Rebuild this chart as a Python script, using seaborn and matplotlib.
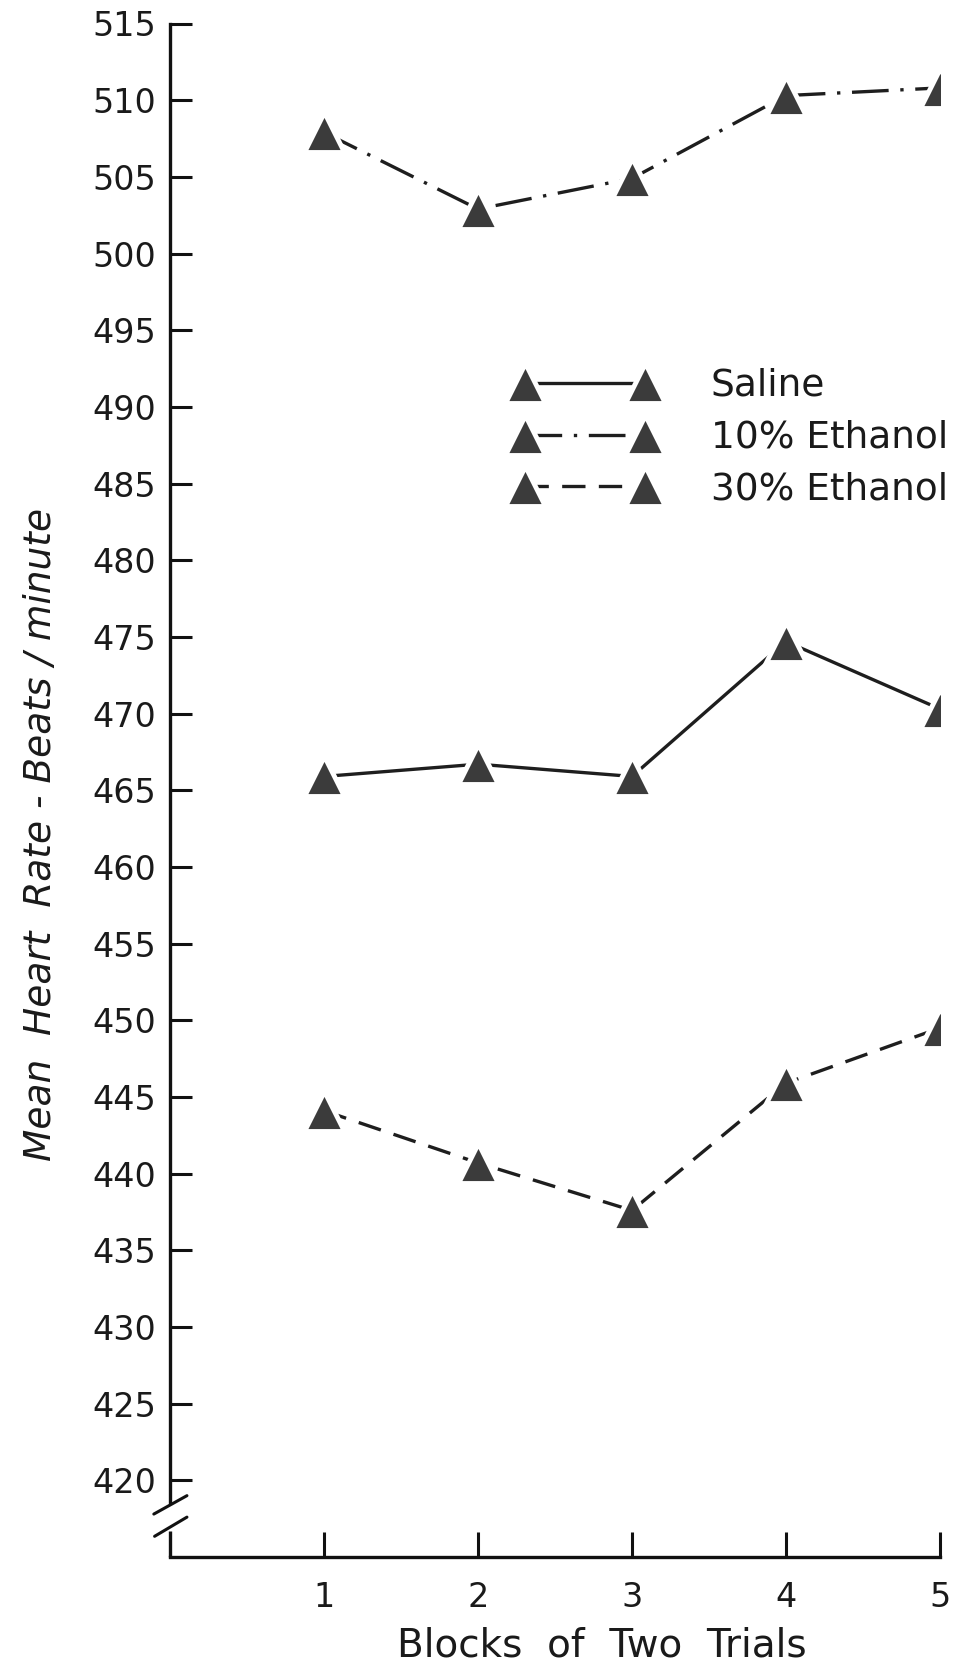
import matplotlib
matplotlib.use("Agg")
import matplotlib.pyplot as plt
import seaborn as sns
import numpy as np
import pandas as pd
from matplotlib.lines import Line2D

# ---- data ----
blocks = [1, 2, 3, 4, 5]
saline = [465.9, 466.7, 465.9, 474.7, 470.3]
ethanol10 = [507.9, 502.9, 504.9, 510.3, 510.8]
ethanol30 = [444.1, 440.7, 437.6, 445.9, 449.5]
series_names = ["Saline", "10% Ethanol", "30% Ethanol"]
yticks = list(range(420, 516, 5))
xticks = [1, 2, 3, 4, 5]
xlabel = "Blocks  of  Two  Trials"
ylabel = "Mean  Heart  Rate - Beats / minute"

sns.set_theme(style="white")
plt.rcParams["font.family"] = ["DejaVu Sans"]

W, H, DPI = 963, 1671, 100
fig = plt.figure(figsize=(W / DPI, H / DPI), dpi=DPI)
ax = fig.add_axes([170 / W, 1 - 1557 / H, 770 / W, (1557 - 23.5) / H])

df = pd.DataFrame({
    "block": blocks * 3,
    "rate": saline + ethanol10 + ethanol30,
    "group": [series_names[0]] * 5 + [series_names[1]] * 5 + [series_names[2]] * 5,
})

line_color = "#1e1e1e"
marker_color = "#3b3b3b"
lw = 2.4
styles = {
    series_names[0]: "-",
    series_names[1]: (0, (11, 3.5, 1, 3.5)),
    series_names[2]: (0, (7, 4)),
}
marker_kw = dict(marker="^", markersize=29, markerfacecolor=marker_color,
                 markeredgecolor="white", markeredgewidth=3.5)

handles = []
for name in series_names:
    sub = df[df["group"] == name]
    sns.lineplot(data=sub, x="block", y="rate", ax=ax, color=line_color,
                 linewidth=lw, linestyle=styles[name], legend=False,
                 zorder=3, **marker_kw)
    handles.append(Line2D([], [], color=line_color, linewidth=lw,
                          linestyle=styles[name], **marker_kw))

ax.set_xlim(0, 5)
ax.set_ylim(415, 515)
ax.set_xticks(xticks)
ax.set_xticklabels([str(t) for t in xticks])
ax.set_yticks(yticks)
ax.set_yticklabels([str(t) for t in yticks])

for s in ["top", "right"]:
    ax.spines[s].set_visible(False)
for s in ["left", "bottom"]:
    ax.spines[s].set_color("#111111")
    ax.spines[s].set_linewidth(2.4)
ax.spines["left"].set_bounds(418.6, 515)

ax.tick_params(axis="y", which="major", left=True, direction="in", length=16,
               width=2.2, color="#111111", labelsize=24, pad=10,
               labelcolor="#1a1a1a")
ax.tick_params(axis="x", which="major", bottom=True, direction="in", length=18,
               width=2.2, color="#111111", labelsize=24, pad=17,
               labelcolor="#1a1a1a")

# axis break marks
ytr = ax.get_yaxis_transform()
ax.plot([0, 0], [415, 416.7], color="#111111", lw=2.4, transform=ytr,
        clip_on=False, solid_capstyle="butt")
ax.plot([-0.021, 0.022], [417.8, 419.0], color="#111111", lw=2.2,
        transform=ytr, clip_on=False)
ax.plot([-0.020, 0.022], [416.35, 417.6], color="#111111", lw=2.2,
        transform=ytr, clip_on=False)

ax.set_xlabel(xlabel, fontsize=28, color="#1a1a1a")
ax.xaxis.set_label_coords((602 - 170) / 770, -0.045)
ax.xaxis.label.set_va("top")

ax.set_ylabel(ylabel, fontsize=27, style="italic", color="#1a1a1a")
ax.yaxis.set_label_coords(-0.144, (1557 - 834) / (1557 - 23.5))

leg = ax.legend(handles, series_names, numpoints=2, handlelength=3.8,
                handletextpad=1.45, labelspacing=0.42, frameon=False,
                fontsize=27, loc="upper left", borderpad=0, borderaxespad=0,
                bbox_to_anchor=((514 - 170) / 770, (1557 - 368) / (1557 - 23.5)))
for t in leg.get_texts():
    t.set_color("#1a1a1a")

fig.savefig("out.png", dpi=DPI, facecolor="white")
